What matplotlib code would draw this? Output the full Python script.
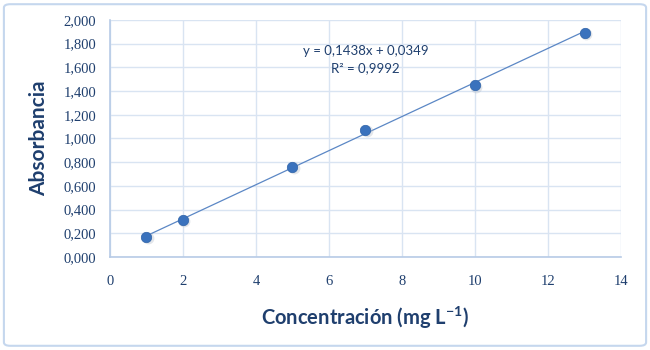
import matplotlib.pyplot as plt
from matplotlib.patches import FancyBboxPatch
from matplotlib.ticker import FuncFormatter

# datos de la curva de calibración
concentracion = [1, 2, 5, 7, 10, 13]
absorbancia = [0.167, 0.311, 0.760, 1.072, 1.448, 1.893]
pendiente = 0.1438
intercepto = 0.0349
r2 = 0.9992

azul_texto = "#1f3f6e"
azul_punto = "#3a72bd"
azul_grid = "#d9e4f2"
azul_eje = "#b7cbe6"

fig = plt.figure(figsize=(6.5, 3.5), dpi=100)
fig.patches.append(FancyBboxPatch((0.006, 0.012), 0.988, 0.976, boxstyle="round,pad=0,rounding_size=0.01",
                                  transform=fig.transFigure, fill=False, ec="#c5d7ee", lw=1.5))
ax = fig.add_axes([0.1692, 0.2657, 0.7862, 0.6772])

# línea de tendencia
xs = [min(concentracion), max(concentracion)]
ys = [pendiente * x + intercepto for x in xs]
ax.plot(xs, ys, color="#5b87c5", lw=0.9, zorder=2)

# puntos con sombra suave
ax.plot([x + 0.04 for x in concentracion], [y - 0.01 for y in absorbancia], "o", ms=8.5,
        color="#b0b8c4", alpha=0.35, mec="none", zorder=2)
ax.plot(concentracion, absorbancia, "o", ms=7.5, color=azul_punto, mec="#2f63a8", mew=0.5, zorder=3)

ax.set_xlim(0, 14)
ax.set_ylim(0, 2.0)
ax.set_xticks(range(0, 15, 2))
ax.set_yticks([i * 0.2 for i in range(11)])
ax.yaxis.set_major_formatter(FuncFormatter(lambda v, p: f"{v:.3f}".replace(".", ",")))
ax.grid(True, color=azul_grid, lw=1)
ax.set_axisbelow(True)
for s in ["top", "right"]:
    ax.spines[s].set_visible(False)
for s in ["left", "bottom"]:
    ax.spines[s].set_color(azul_eje)
    ax.spines[s].set_linewidth(1.2)
ax.tick_params(length=0, pad=10, labelsize=10.5, colors=azul_texto)
for lab in ax.get_xticklabels() + ax.get_yticklabels():
    lab.set_family("Liberation Serif")
ax.tick_params(axis="x", pad=13)

ax.set_ylabel("Absorbancia", fontsize=15, fontweight="bold", color=azul_texto, family="Lato", labelpad=10)
ax.set_xlabel("Concentración (mg L$^{\\mathregular{-1}}$)", fontsize=14.5, fontweight="bold",
              color=azul_texto, family="Lato", labelpad=12)

eq = f"y = {pendiente:.4f}x + {intercepto:.4f}".replace(".", ",")
r2_txt = f"R² = {r2:.4f}".replace(".", ",")
ax.text(7.0, 1.74, eq, ha="center", va="center", fontsize=9.5, color=azul_texto, family="Lato")
ax.text(7.0, 1.59, r2_txt, ha="center", va="center", fontsize=9.5, color=azul_texto, family="Lato")

fig.savefig("out.png", dpi=100)
